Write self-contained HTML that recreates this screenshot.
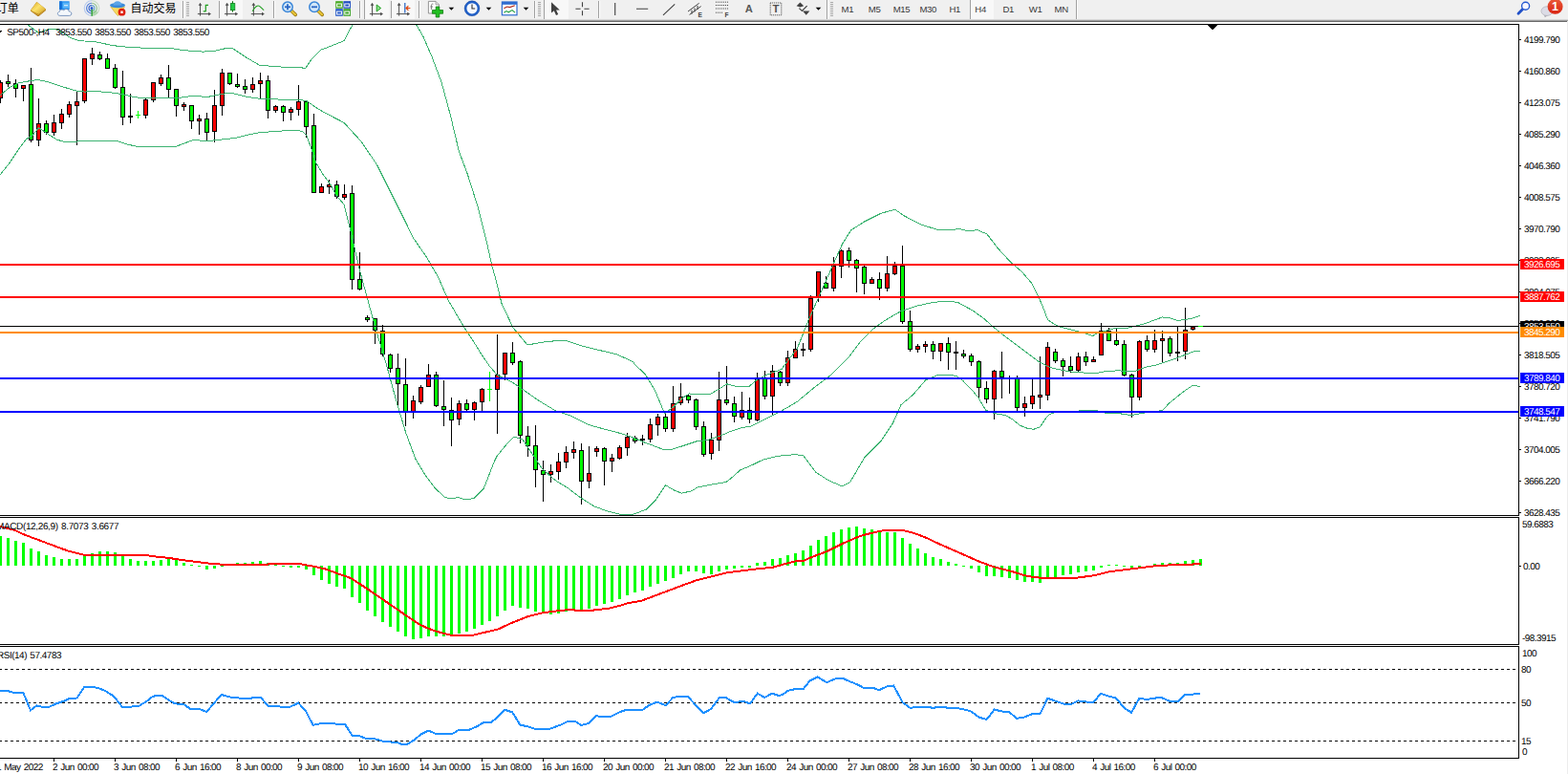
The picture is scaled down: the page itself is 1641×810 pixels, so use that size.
<!DOCTYPE html>
<html><head><meta charset="utf-8"><title>SP500 H4</title>
<style>
html,body{margin:0;padding:0;background:#fff;overflow:hidden}
body{width:1641px;height:810px;font-family:"Liberation Sans",sans-serif}
svg{display:block;position:absolute;left:0;top:0}
svg text{font-family:"Liberation Sans",sans-serif}
</style></head><body>
<svg width="1641" height="810" viewBox="0 0 1641 810">
<defs><clipPath id="cm"><rect x="0" y="26" width="1589" height="513"/></clipPath></defs>
<rect x="0" y="0" width="1641" height="810" fill="#fff"/>
<g shape-rendering="crispEdges">
<rect x="0" y="25" width="1590" height="1" fill="#000"/>
<rect x="0" y="539" width="1590" height="1" fill="#000"/>
<rect x="1589" y="25" width="1" height="515" fill="#000"/>
<rect x="0" y="541" width="1590" height="1" fill="#000"/>
<rect x="0" y="674" width="1590" height="1" fill="#000"/>
<rect x="1589" y="541" width="1" height="134" fill="#000"/>
<rect x="0" y="676" width="1590" height="1" fill="#000"/>
<rect x="0" y="793" width="1590" height="1" fill="#000"/>
<rect x="1589" y="676" width="1" height="118" fill="#000"/>
<rect x="0" y="84" width="1" height="24" fill="#000"/>
<rect x="-2" y="86" width="5" height="17" fill="#000"/>
<rect x="-1" y="87" width="3" height="15" fill="#FF0000"/>
<rect x="8" y="78" width="1" height="13" fill="#000"/>
<rect x="6" y="85" width="5" height="3" fill="#000"/>
<rect x="7" y="86" width="3" height="1" fill="#00FF00"/>
<rect x="16" y="83" width="1" height="19" fill="#000"/>
<rect x="14" y="87" width="5" height="6" fill="#000"/>
<rect x="15" y="88" width="3" height="4" fill="#00FF00"/>
<rect x="24" y="89" width="1" height="17" fill="#000"/>
<rect x="22" y="89" width="5" height="4" fill="#000"/>
<rect x="23" y="90" width="3" height="2" fill="#FF0000"/>
<rect x="32" y="71" width="1" height="78" fill="#000"/>
<rect x="30" y="88" width="5" height="59" fill="#000"/>
<rect x="31" y="89" width="3" height="57" fill="#00FF00"/>
<rect x="40" y="103" width="1" height="50" fill="#000"/>
<rect x="38" y="129" width="5" height="18" fill="#000"/>
<rect x="39" y="130" width="3" height="16" fill="#FF0000"/>
<rect x="48" y="126" width="1" height="15" fill="#000"/>
<rect x="46" y="129" width="5" height="10" fill="#000"/>
<rect x="47" y="130" width="3" height="8" fill="#00FF00"/>
<rect x="56" y="120" width="1" height="22" fill="#000"/>
<rect x="54" y="128" width="5" height="11" fill="#000"/>
<rect x="55" y="129" width="3" height="9" fill="#FF0000"/>
<rect x="64" y="114" width="1" height="21" fill="#000"/>
<rect x="62" y="119" width="5" height="10" fill="#000"/>
<rect x="63" y="120" width="3" height="8" fill="#FF0000"/>
<rect x="72" y="106" width="1" height="17" fill="#000"/>
<rect x="70" y="109" width="5" height="11" fill="#000"/>
<rect x="71" y="110" width="3" height="9" fill="#FF0000"/>
<rect x="80" y="96" width="1" height="56" fill="#000"/>
<rect x="78" y="106" width="5" height="5" fill="#000"/>
<rect x="79" y="107" width="3" height="3" fill="#FF0000"/>
<rect x="88" y="61" width="1" height="47" fill="#000"/>
<rect x="86" y="61" width="5" height="45" fill="#000"/>
<rect x="87" y="62" width="3" height="43" fill="#FF0000"/>
<rect x="96" y="50" width="1" height="18" fill="#000"/>
<rect x="94" y="56" width="5" height="6" fill="#000"/>
<rect x="95" y="57" width="3" height="4" fill="#FF0000"/>
<rect x="104" y="54" width="1" height="9" fill="#000"/>
<rect x="102" y="57" width="5" height="5" fill="#000"/>
<rect x="103" y="58" width="3" height="3" fill="#00FF00"/>
<rect x="112" y="56" width="1" height="16" fill="#000"/>
<rect x="110" y="61" width="5" height="11" fill="#000"/>
<rect x="111" y="62" width="3" height="9" fill="#00FF00"/>
<rect x="120" y="67" width="1" height="26" fill="#000"/>
<rect x="118" y="71" width="5" height="21" fill="#000"/>
<rect x="119" y="72" width="3" height="19" fill="#00FF00"/>
<rect x="128" y="74" width="1" height="57" fill="#000"/>
<rect x="126" y="91" width="5" height="32" fill="#000"/>
<rect x="127" y="92" width="3" height="30" fill="#00FF00"/>
<rect x="136" y="98" width="1" height="31" fill="#000"/>
<rect x="134" y="121" width="5" height="2" fill="#000"/>
<rect x="144" y="116" width="1" height="8" fill="#00FF00"/>
<rect x="142" y="120" width="5" height="1" fill="#00FF00"/>
<rect x="152" y="102" width="1" height="22" fill="#000"/>
<rect x="150" y="104" width="5" height="17" fill="#000"/>
<rect x="151" y="105" width="3" height="15" fill="#FF0000"/>
<rect x="160" y="86" width="1" height="21" fill="#000"/>
<rect x="158" y="86" width="5" height="19" fill="#000"/>
<rect x="159" y="87" width="3" height="17" fill="#FF0000"/>
<rect x="168" y="78" width="1" height="12" fill="#000"/>
<rect x="166" y="81" width="5" height="7" fill="#000"/>
<rect x="167" y="82" width="3" height="5" fill="#FF0000"/>
<rect x="176" y="68" width="1" height="34" fill="#000"/>
<rect x="174" y="81" width="5" height="13" fill="#000"/>
<rect x="175" y="82" width="3" height="11" fill="#00FF00"/>
<rect x="184" y="93" width="1" height="29" fill="#000"/>
<rect x="182" y="93" width="5" height="18" fill="#000"/>
<rect x="183" y="94" width="3" height="16" fill="#00FF00"/>
<rect x="192" y="107" width="1" height="9" fill="#000"/>
<rect x="190" y="109" width="5" height="3" fill="#000"/>
<rect x="191" y="110" width="3" height="1" fill="#FF0000"/>
<rect x="200" y="110" width="1" height="25" fill="#000"/>
<rect x="198" y="110" width="5" height="17" fill="#000"/>
<rect x="199" y="111" width="3" height="15" fill="#00FF00"/>
<rect x="208" y="120" width="1" height="21" fill="#000"/>
<rect x="206" y="124" width="5" height="3" fill="#000"/>
<rect x="207" y="125" width="3" height="1" fill="#FF0000"/>
<rect x="216" y="118" width="1" height="29" fill="#000"/>
<rect x="214" y="124" width="5" height="15" fill="#000"/>
<rect x="215" y="125" width="3" height="13" fill="#00FF00"/>
<rect x="224" y="94" width="1" height="55" fill="#000"/>
<rect x="222" y="110" width="5" height="28" fill="#000"/>
<rect x="223" y="111" width="3" height="26" fill="#FF0000"/>
<rect x="232" y="72" width="1" height="49" fill="#000"/>
<rect x="230" y="76" width="5" height="35" fill="#000"/>
<rect x="231" y="77" width="3" height="33" fill="#FF0000"/>
<rect x="240" y="76" width="1" height="13" fill="#000"/>
<rect x="238" y="76" width="5" height="12" fill="#000"/>
<rect x="239" y="77" width="3" height="10" fill="#00FF00"/>
<rect x="248" y="77" width="1" height="15" fill="#000"/>
<rect x="246" y="88" width="5" height="3" fill="#000"/>
<rect x="247" y="89" width="3" height="1" fill="#00FF00"/>
<rect x="256" y="83" width="1" height="15" fill="#000"/>
<rect x="254" y="90" width="5" height="4" fill="#000"/>
<rect x="255" y="91" width="3" height="2" fill="#00FF00"/>
<rect x="264" y="81" width="1" height="16" fill="#000"/>
<rect x="262" y="88" width="5" height="6" fill="#000"/>
<rect x="263" y="89" width="3" height="4" fill="#FF0000"/>
<rect x="272" y="76" width="1" height="27" fill="#000"/>
<rect x="270" y="84" width="5" height="4" fill="#000"/>
<rect x="271" y="85" width="3" height="2" fill="#FF0000"/>
<rect x="280" y="79" width="1" height="45" fill="#000"/>
<rect x="278" y="84" width="5" height="32" fill="#000"/>
<rect x="279" y="85" width="3" height="30" fill="#00FF00"/>
<rect x="288" y="110" width="1" height="8" fill="#000"/>
<rect x="286" y="111" width="5" height="5" fill="#000"/>
<rect x="287" y="112" width="3" height="3" fill="#FF0000"/>
<rect x="296" y="110" width="1" height="17" fill="#000"/>
<rect x="294" y="111" width="5" height="7" fill="#000"/>
<rect x="295" y="112" width="3" height="5" fill="#00FF00"/>
<rect x="304" y="112" width="1" height="14" fill="#000"/>
<rect x="302" y="114" width="5" height="4" fill="#000"/>
<rect x="303" y="115" width="3" height="2" fill="#FF0000"/>
<rect x="312" y="89" width="1" height="32" fill="#000"/>
<rect x="310" y="106" width="5" height="9" fill="#000"/>
<rect x="311" y="107" width="3" height="7" fill="#FF0000"/>
<rect x="320" y="106" width="1" height="38" fill="#000"/>
<rect x="318" y="106" width="5" height="27" fill="#000"/>
<rect x="319" y="107" width="3" height="25" fill="#00FF00"/>
<rect x="328" y="119" width="1" height="83" fill="#000"/>
<rect x="326" y="131" width="5" height="71" fill="#000"/>
<rect x="327" y="132" width="3" height="69" fill="#00FF00"/>
<rect x="336" y="192" width="1" height="10" fill="#000"/>
<rect x="334" y="195" width="5" height="7" fill="#000"/>
<rect x="335" y="196" width="3" height="5" fill="#FF0000"/>
<rect x="344" y="188" width="1" height="15" fill="#000"/>
<rect x="342" y="193" width="5" height="3" fill="#000"/>
<rect x="343" y="194" width="3" height="1" fill="#FF0000"/>
<rect x="352" y="189" width="1" height="19" fill="#000"/>
<rect x="350" y="193" width="5" height="13" fill="#000"/>
<rect x="351" y="194" width="3" height="11" fill="#00FF00"/>
<rect x="360" y="193" width="1" height="16" fill="#000"/>
<rect x="358" y="203" width="5" height="4" fill="#000"/>
<rect x="359" y="204" width="3" height="2" fill="#FF0000"/>
<rect x="368" y="194" width="1" height="109" fill="#000"/>
<rect x="366" y="202" width="5" height="91" fill="#000"/>
<rect x="367" y="203" width="3" height="89" fill="#00FF00"/>
<rect x="376" y="264" width="1" height="40" fill="#000"/>
<rect x="374" y="292" width="5" height="11" fill="#000"/>
<rect x="375" y="293" width="3" height="9" fill="#00FF00"/>
<rect x="384" y="330" width="1" height="7" fill="#000"/>
<rect x="382" y="332" width="5" height="3" fill="#000"/>
<rect x="383" y="333" width="3" height="1" fill="#00FF00"/>
<rect x="392" y="333" width="1" height="27" fill="#000"/>
<rect x="390" y="333" width="5" height="13" fill="#000"/>
<rect x="391" y="334" width="3" height="11" fill="#00FF00"/>
<rect x="400" y="340" width="1" height="33" fill="#000"/>
<rect x="398" y="346" width="5" height="25" fill="#000"/>
<rect x="399" y="347" width="3" height="23" fill="#00FF00"/>
<rect x="408" y="370" width="1" height="20" fill="#000"/>
<rect x="406" y="371" width="5" height="15" fill="#000"/>
<rect x="407" y="372" width="3" height="13" fill="#00FF00"/>
<rect x="416" y="370" width="1" height="57" fill="#000"/>
<rect x="414" y="385" width="5" height="17" fill="#000"/>
<rect x="415" y="386" width="3" height="15" fill="#00FF00"/>
<rect x="424" y="375" width="1" height="71" fill="#000"/>
<rect x="422" y="402" width="5" height="29" fill="#000"/>
<rect x="423" y="403" width="3" height="27" fill="#00FF00"/>
<rect x="432" y="414" width="1" height="24" fill="#000"/>
<rect x="430" y="419" width="5" height="12" fill="#000"/>
<rect x="431" y="420" width="3" height="10" fill="#FF0000"/>
<rect x="440" y="403" width="1" height="20" fill="#000"/>
<rect x="438" y="405" width="5" height="16" fill="#000"/>
<rect x="439" y="406" width="3" height="14" fill="#FF0000"/>
<rect x="448" y="381" width="1" height="24" fill="#000"/>
<rect x="446" y="392" width="5" height="13" fill="#000"/>
<rect x="447" y="393" width="3" height="11" fill="#FF0000"/>
<rect x="456" y="389" width="1" height="37" fill="#000"/>
<rect x="454" y="392" width="5" height="33" fill="#000"/>
<rect x="455" y="393" width="3" height="31" fill="#00FF00"/>
<rect x="464" y="398" width="1" height="48" fill="#000"/>
<rect x="462" y="425" width="5" height="4" fill="#000"/>
<rect x="463" y="426" width="3" height="2" fill="#00FF00"/>
<rect x="472" y="416" width="1" height="51" fill="#000"/>
<rect x="470" y="429" width="5" height="11" fill="#000"/>
<rect x="471" y="430" width="3" height="9" fill="#00FF00"/>
<rect x="480" y="419" width="1" height="26" fill="#000"/>
<rect x="478" y="422" width="5" height="17" fill="#000"/>
<rect x="479" y="423" width="3" height="15" fill="#FF0000"/>
<rect x="488" y="418" width="1" height="12" fill="#000"/>
<rect x="486" y="422" width="5" height="7" fill="#000"/>
<rect x="487" y="423" width="3" height="5" fill="#00FF00"/>
<rect x="496" y="420" width="1" height="20" fill="#000"/>
<rect x="494" y="421" width="5" height="8" fill="#000"/>
<rect x="495" y="422" width="3" height="6" fill="#FF0000"/>
<rect x="504" y="406" width="1" height="24" fill="#000"/>
<rect x="502" y="407" width="5" height="14" fill="#000"/>
<rect x="503" y="408" width="3" height="12" fill="#FF0000"/>
<rect x="512" y="389" width="1" height="31" fill="#00FF00"/>
<rect x="510" y="407" width="5" height="1" fill="#00FF00"/>
<rect x="520" y="350" width="1" height="104" fill="#000"/>
<rect x="518" y="392" width="5" height="16" fill="#000"/>
<rect x="519" y="393" width="3" height="14" fill="#FF0000"/>
<rect x="528" y="369" width="1" height="29" fill="#000"/>
<rect x="526" y="369" width="5" height="23" fill="#000"/>
<rect x="527" y="370" width="3" height="21" fill="#FF0000"/>
<rect x="536" y="358" width="1" height="24" fill="#000"/>
<rect x="534" y="369" width="5" height="11" fill="#000"/>
<rect x="535" y="370" width="3" height="9" fill="#00FF00"/>
<rect x="544" y="377" width="1" height="87" fill="#000"/>
<rect x="542" y="378" width="5" height="78" fill="#000"/>
<rect x="543" y="379" width="3" height="76" fill="#00FF00"/>
<rect x="552" y="446" width="1" height="32" fill="#000"/>
<rect x="550" y="456" width="5" height="11" fill="#000"/>
<rect x="551" y="457" width="3" height="9" fill="#00FF00"/>
<rect x="560" y="445" width="1" height="65" fill="#000"/>
<rect x="558" y="466" width="5" height="26" fill="#000"/>
<rect x="559" y="467" width="3" height="24" fill="#00FF00"/>
<rect x="568" y="482" width="1" height="43" fill="#000"/>
<rect x="566" y="492" width="5" height="5" fill="#000"/>
<rect x="567" y="493" width="3" height="3" fill="#00FF00"/>
<rect x="576" y="486" width="1" height="19" fill="#000"/>
<rect x="574" y="493" width="5" height="4" fill="#000"/>
<rect x="575" y="494" width="3" height="2" fill="#FF0000"/>
<rect x="584" y="474" width="1" height="28" fill="#000"/>
<rect x="582" y="483" width="5" height="11" fill="#000"/>
<rect x="583" y="484" width="3" height="9" fill="#FF0000"/>
<rect x="592" y="467" width="1" height="23" fill="#000"/>
<rect x="590" y="473" width="5" height="11" fill="#000"/>
<rect x="591" y="474" width="3" height="9" fill="#FF0000"/>
<rect x="600" y="462" width="1" height="18" fill="#000"/>
<rect x="598" y="470" width="5" height="4" fill="#000"/>
<rect x="599" y="471" width="3" height="2" fill="#FF0000"/>
<rect x="608" y="464" width="1" height="64" fill="#000"/>
<rect x="606" y="471" width="5" height="33" fill="#000"/>
<rect x="607" y="472" width="3" height="31" fill="#00FF00"/>
<rect x="616" y="467" width="1" height="44" fill="#000"/>
<rect x="614" y="495" width="5" height="9" fill="#000"/>
<rect x="615" y="496" width="3" height="7" fill="#FF0000"/>
<rect x="624" y="467" width="1" height="11" fill="#000"/>
<rect x="622" y="469" width="5" height="4" fill="#000"/>
<rect x="623" y="470" width="3" height="2" fill="#FF0000"/>
<rect x="632" y="468" width="1" height="40" fill="#000"/>
<rect x="630" y="469" width="5" height="14" fill="#000"/>
<rect x="631" y="470" width="3" height="12" fill="#00FF00"/>
<rect x="640" y="475" width="1" height="19" fill="#000"/>
<rect x="638" y="479" width="5" height="4" fill="#000"/>
<rect x="639" y="480" width="3" height="2" fill="#FF0000"/>
<rect x="648" y="466" width="1" height="15" fill="#000"/>
<rect x="646" y="468" width="5" height="12" fill="#000"/>
<rect x="647" y="469" width="3" height="10" fill="#FF0000"/>
<rect x="656" y="453" width="1" height="24" fill="#000"/>
<rect x="654" y="457" width="5" height="12" fill="#000"/>
<rect x="655" y="458" width="3" height="10" fill="#FF0000"/>
<rect x="664" y="456" width="1" height="8" fill="#000"/>
<rect x="662" y="458" width="5" height="4" fill="#000"/>
<rect x="663" y="459" width="3" height="2" fill="#00FF00"/>
<rect x="672" y="455" width="1" height="11" fill="#000"/>
<rect x="670" y="459" width="5" height="2" fill="#000"/>
<rect x="680" y="438" width="1" height="25" fill="#000"/>
<rect x="678" y="444" width="5" height="16" fill="#000"/>
<rect x="679" y="445" width="3" height="14" fill="#FF0000"/>
<rect x="688" y="433" width="1" height="23" fill="#000"/>
<rect x="686" y="436" width="5" height="9" fill="#000"/>
<rect x="687" y="437" width="3" height="7" fill="#FF0000"/>
<rect x="696" y="433" width="1" height="19" fill="#000"/>
<rect x="694" y="436" width="5" height="13" fill="#000"/>
<rect x="695" y="437" width="3" height="11" fill="#00FF00"/>
<rect x="704" y="404" width="1" height="48" fill="#000"/>
<rect x="702" y="422" width="5" height="27" fill="#000"/>
<rect x="703" y="423" width="3" height="25" fill="#FF0000"/>
<rect x="712" y="401" width="1" height="23" fill="#000"/>
<rect x="710" y="415" width="5" height="7" fill="#000"/>
<rect x="711" y="416" width="3" height="5" fill="#FF0000"/>
<rect x="720" y="413" width="1" height="9" fill="#000"/>
<rect x="718" y="414" width="5" height="5" fill="#000"/>
<rect x="719" y="415" width="3" height="3" fill="#00FF00"/>
<rect x="728" y="417" width="1" height="33" fill="#000"/>
<rect x="726" y="418" width="5" height="29" fill="#000"/>
<rect x="727" y="419" width="3" height="27" fill="#00FF00"/>
<rect x="736" y="441" width="1" height="37" fill="#000"/>
<rect x="734" y="446" width="5" height="30" fill="#000"/>
<rect x="735" y="447" width="3" height="28" fill="#00FF00"/>
<rect x="744" y="453" width="1" height="28" fill="#000"/>
<rect x="742" y="460" width="5" height="15" fill="#000"/>
<rect x="743" y="461" width="3" height="13" fill="#FF0000"/>
<rect x="752" y="389" width="1" height="83" fill="#000"/>
<rect x="750" y="418" width="5" height="43" fill="#000"/>
<rect x="751" y="419" width="3" height="41" fill="#FF0000"/>
<rect x="760" y="383" width="1" height="41" fill="#000"/>
<rect x="758" y="418" width="5" height="4" fill="#000"/>
<rect x="759" y="419" width="3" height="2" fill="#00FF00"/>
<rect x="768" y="415" width="1" height="27" fill="#000"/>
<rect x="766" y="422" width="5" height="14" fill="#000"/>
<rect x="767" y="423" width="3" height="12" fill="#00FF00"/>
<rect x="776" y="410" width="1" height="29" fill="#000"/>
<rect x="774" y="429" width="5" height="8" fill="#000"/>
<rect x="775" y="430" width="3" height="6" fill="#FF0000"/>
<rect x="784" y="416" width="1" height="27" fill="#000"/>
<rect x="782" y="429" width="5" height="10" fill="#000"/>
<rect x="783" y="430" width="3" height="8" fill="#00FF00"/>
<rect x="792" y="390" width="1" height="51" fill="#000"/>
<rect x="790" y="397" width="5" height="43" fill="#000"/>
<rect x="791" y="398" width="3" height="41" fill="#FF0000"/>
<rect x="800" y="388" width="1" height="30" fill="#000"/>
<rect x="798" y="396" width="5" height="19" fill="#000"/>
<rect x="799" y="397" width="3" height="17" fill="#00FF00"/>
<rect x="808" y="382" width="1" height="52" fill="#000"/>
<rect x="806" y="388" width="5" height="27" fill="#000"/>
<rect x="807" y="389" width="3" height="25" fill="#FF0000"/>
<rect x="816" y="388" width="1" height="16" fill="#000"/>
<rect x="814" y="389" width="5" height="12" fill="#000"/>
<rect x="815" y="390" width="3" height="10" fill="#00FF00"/>
<rect x="824" y="367" width="1" height="37" fill="#000"/>
<rect x="822" y="374" width="5" height="27" fill="#000"/>
<rect x="823" y="375" width="3" height="25" fill="#FF0000"/>
<rect x="832" y="357" width="1" height="18" fill="#000"/>
<rect x="830" y="365" width="5" height="10" fill="#000"/>
<rect x="831" y="366" width="3" height="8" fill="#FF0000"/>
<rect x="840" y="359" width="1" height="14" fill="#000"/>
<rect x="838" y="365" width="5" height="2" fill="#000"/>
<rect x="848" y="309" width="1" height="59" fill="#000"/>
<rect x="846" y="312" width="5" height="54" fill="#000"/>
<rect x="847" y="313" width="3" height="52" fill="#FF0000"/>
<rect x="856" y="284" width="1" height="32" fill="#000"/>
<rect x="854" y="284" width="5" height="27" fill="#000"/>
<rect x="855" y="285" width="3" height="25" fill="#FF0000"/>
<rect x="864" y="289" width="1" height="13" fill="#000"/>
<rect x="862" y="296" width="5" height="6" fill="#000"/>
<rect x="863" y="297" width="3" height="4" fill="#00FF00"/>
<rect x="872" y="269" width="1" height="36" fill="#000"/>
<rect x="870" y="278" width="5" height="24" fill="#000"/>
<rect x="871" y="279" width="3" height="22" fill="#FF0000"/>
<rect x="880" y="261" width="1" height="30" fill="#000"/>
<rect x="878" y="262" width="5" height="17" fill="#000"/>
<rect x="879" y="263" width="3" height="15" fill="#FF0000"/>
<rect x="888" y="259" width="1" height="21" fill="#000"/>
<rect x="886" y="262" width="5" height="11" fill="#000"/>
<rect x="887" y="263" width="3" height="9" fill="#00FF00"/>
<rect x="896" y="271" width="1" height="35" fill="#000"/>
<rect x="894" y="272" width="5" height="9" fill="#000"/>
<rect x="895" y="273" width="3" height="7" fill="#00FF00"/>
<rect x="904" y="278" width="1" height="30" fill="#000"/>
<rect x="902" y="279" width="5" height="18" fill="#000"/>
<rect x="903" y="280" width="3" height="16" fill="#00FF00"/>
<rect x="912" y="290" width="1" height="7" fill="#000"/>
<rect x="910" y="292" width="5" height="5" fill="#000"/>
<rect x="911" y="293" width="3" height="3" fill="#FF0000"/>
<rect x="920" y="285" width="1" height="29" fill="#000"/>
<rect x="918" y="292" width="5" height="10" fill="#000"/>
<rect x="919" y="293" width="3" height="8" fill="#00FF00"/>
<rect x="928" y="268" width="1" height="37" fill="#000"/>
<rect x="926" y="286" width="5" height="16" fill="#000"/>
<rect x="927" y="287" width="3" height="14" fill="#FF0000"/>
<rect x="936" y="274" width="1" height="14" fill="#000"/>
<rect x="934" y="278" width="5" height="9" fill="#000"/>
<rect x="935" y="279" width="3" height="7" fill="#FF0000"/>
<rect x="944" y="257" width="1" height="82" fill="#000"/>
<rect x="942" y="278" width="5" height="59" fill="#000"/>
<rect x="943" y="279" width="3" height="57" fill="#00FF00"/>
<rect x="952" y="325" width="1" height="43" fill="#000"/>
<rect x="950" y="336" width="5" height="30" fill="#000"/>
<rect x="951" y="337" width="3" height="28" fill="#00FF00"/>
<rect x="960" y="360" width="1" height="9" fill="#000"/>
<rect x="958" y="362" width="5" height="4" fill="#000"/>
<rect x="959" y="363" width="3" height="2" fill="#FF0000"/>
<rect x="968" y="357" width="1" height="12" fill="#000"/>
<rect x="966" y="360" width="5" height="3" fill="#000"/>
<rect x="967" y="361" width="3" height="1" fill="#FF0000"/>
<rect x="976" y="357" width="1" height="19" fill="#000"/>
<rect x="974" y="360" width="5" height="8" fill="#000"/>
<rect x="975" y="361" width="3" height="6" fill="#00FF00"/>
<rect x="984" y="359" width="1" height="19" fill="#000"/>
<rect x="982" y="359" width="5" height="9" fill="#000"/>
<rect x="983" y="360" width="3" height="7" fill="#FF0000"/>
<rect x="992" y="353" width="1" height="34" fill="#000"/>
<rect x="990" y="359" width="5" height="10" fill="#000"/>
<rect x="991" y="360" width="3" height="8" fill="#00FF00"/>
<rect x="1000" y="357" width="1" height="30" fill="#000"/>
<rect x="998" y="368" width="5" height="2" fill="#000"/>
<rect x="1008" y="366" width="1" height="9" fill="#000"/>
<rect x="1006" y="370" width="5" height="3" fill="#000"/>
<rect x="1007" y="371" width="3" height="1" fill="#00FF00"/>
<rect x="1016" y="370" width="1" height="13" fill="#000"/>
<rect x="1014" y="372" width="5" height="7" fill="#000"/>
<rect x="1015" y="373" width="3" height="5" fill="#00FF00"/>
<rect x="1024" y="377" width="1" height="41" fill="#000"/>
<rect x="1022" y="378" width="5" height="28" fill="#000"/>
<rect x="1023" y="379" width="3" height="26" fill="#00FF00"/>
<rect x="1032" y="399" width="1" height="23" fill="#000"/>
<rect x="1030" y="406" width="5" height="12" fill="#000"/>
<rect x="1031" y="407" width="3" height="10" fill="#00FF00"/>
<rect x="1040" y="387" width="1" height="52" fill="#000"/>
<rect x="1038" y="388" width="5" height="30" fill="#000"/>
<rect x="1039" y="389" width="3" height="28" fill="#FF0000"/>
<rect x="1048" y="368" width="1" height="49" fill="#000"/>
<rect x="1046" y="388" width="5" height="7" fill="#000"/>
<rect x="1047" y="389" width="3" height="5" fill="#00FF00"/>
<rect x="1056" y="393" width="1" height="19" fill="#000"/>
<rect x="1054" y="395" width="5" height="2" fill="#000"/>
<rect x="1064" y="393" width="1" height="37" fill="#000"/>
<rect x="1062" y="396" width="5" height="31" fill="#000"/>
<rect x="1063" y="397" width="3" height="29" fill="#00FF00"/>
<rect x="1072" y="415" width="1" height="21" fill="#000"/>
<rect x="1070" y="422" width="5" height="5" fill="#000"/>
<rect x="1071" y="423" width="3" height="3" fill="#FF0000"/>
<rect x="1080" y="397" width="1" height="31" fill="#000"/>
<rect x="1078" y="414" width="5" height="9" fill="#000"/>
<rect x="1079" y="415" width="3" height="7" fill="#FF0000"/>
<rect x="1088" y="373" width="1" height="55" fill="#000"/>
<rect x="1086" y="413" width="5" height="3" fill="#000"/>
<rect x="1087" y="414" width="3" height="1" fill="#FF0000"/>
<rect x="1096" y="358" width="1" height="61" fill="#000"/>
<rect x="1094" y="363" width="5" height="51" fill="#000"/>
<rect x="1095" y="364" width="3" height="49" fill="#FF0000"/>
<rect x="1104" y="365" width="1" height="15" fill="#000"/>
<rect x="1102" y="368" width="5" height="10" fill="#000"/>
<rect x="1103" y="369" width="3" height="8" fill="#00FF00"/>
<rect x="1112" y="375" width="1" height="19" fill="#000"/>
<rect x="1110" y="377" width="5" height="7" fill="#000"/>
<rect x="1111" y="378" width="3" height="5" fill="#00FF00"/>
<rect x="1120" y="373" width="1" height="17" fill="#000"/>
<rect x="1118" y="383" width="5" height="5" fill="#000"/>
<rect x="1119" y="384" width="3" height="3" fill="#00FF00"/>
<rect x="1128" y="369" width="1" height="20" fill="#000"/>
<rect x="1126" y="373" width="5" height="15" fill="#000"/>
<rect x="1127" y="374" width="3" height="13" fill="#FF0000"/>
<rect x="1136" y="368" width="1" height="15" fill="#000"/>
<rect x="1134" y="373" width="5" height="6" fill="#000"/>
<rect x="1135" y="374" width="3" height="4" fill="#00FF00"/>
<rect x="1144" y="373" width="1" height="6" fill="#000"/>
<rect x="1142" y="376" width="5" height="3" fill="#000"/>
<rect x="1143" y="377" width="3" height="1" fill="#FF0000"/>
<rect x="1152" y="338" width="1" height="34" fill="#000"/>
<rect x="1150" y="346" width="5" height="26" fill="#000"/>
<rect x="1151" y="347" width="3" height="24" fill="#FF0000"/>
<rect x="1160" y="343" width="1" height="14" fill="#000"/>
<rect x="1158" y="346" width="5" height="11" fill="#000"/>
<rect x="1159" y="347" width="3" height="9" fill="#00FF00"/>
<rect x="1168" y="344" width="1" height="18" fill="#000"/>
<rect x="1166" y="356" width="5" height="5" fill="#000"/>
<rect x="1167" y="357" width="3" height="3" fill="#00FF00"/>
<rect x="1176" y="356" width="1" height="38" fill="#000"/>
<rect x="1174" y="360" width="5" height="33" fill="#000"/>
<rect x="1175" y="361" width="3" height="31" fill="#00FF00"/>
<rect x="1184" y="391" width="1" height="46" fill="#000"/>
<rect x="1182" y="392" width="5" height="24" fill="#000"/>
<rect x="1183" y="393" width="3" height="22" fill="#00FF00"/>
<rect x="1192" y="356" width="1" height="63" fill="#000"/>
<rect x="1190" y="357" width="5" height="59" fill="#000"/>
<rect x="1191" y="358" width="3" height="57" fill="#FF0000"/>
<rect x="1200" y="351" width="1" height="17" fill="#000"/>
<rect x="1198" y="356" width="5" height="10" fill="#000"/>
<rect x="1199" y="357" width="3" height="8" fill="#00FF00"/>
<rect x="1208" y="345" width="1" height="24" fill="#000"/>
<rect x="1206" y="356" width="5" height="10" fill="#000"/>
<rect x="1207" y="357" width="3" height="8" fill="#FF0000"/>
<rect x="1216" y="346" width="1" height="34" fill="#000"/>
<rect x="1214" y="354" width="5" height="3" fill="#000"/>
<rect x="1215" y="355" width="3" height="1" fill="#FF0000"/>
<rect x="1224" y="352" width="1" height="21" fill="#000"/>
<rect x="1222" y="354" width="5" height="16" fill="#000"/>
<rect x="1223" y="355" width="3" height="14" fill="#00FF00"/>
<rect x="1232" y="342" width="1" height="36" fill="#000"/>
<rect x="1230" y="368" width="5" height="2" fill="#000"/>
<rect x="1240" y="322" width="1" height="54" fill="#000"/>
<rect x="1238" y="345" width="5" height="23" fill="#000"/>
<rect x="1239" y="346" width="3" height="21" fill="#FF0000"/>
<rect x="1248" y="342" width="1" height="4" fill="#000"/>
<rect x="1246" y="342" width="5" height="3" fill="#000"/>
<rect x="1247" y="343" width="3" height="1" fill="#FF0000"/>
<rect x="1264" y="26" width="10" height="1" fill="#000"/>
<rect x="1265" y="27" width="8" height="1" fill="#000"/>
<rect x="1266" y="28" width="6" height="1" fill="#000"/>
<rect x="1267" y="29" width="4" height="1" fill="#000"/>
<rect x="1268" y="30" width="2" height="1" fill="#000"/>
<g clip-path="url(#cm)">
<polyline points="29.0,26.0 40.5,34.4 51.9,30.2 59.3,30.2 74.0,39.8 84.0,42.8 98.8,43.5 118.5,47.7 138.0,49.7 158.0,50.4 177.8,50.4 192.6,52.7 212.0,54.1 224.7,53.4 237.0,50.4 243.0,50.4 256.8,59.6 271.6,68.2 291.4,69.9 311.0,70.7 319.8,71.2 326.0,62.0 335.8,52.2 345.7,48.5 360.0,42.7 365.4,32.4 369.0,26.0" fill="none" stroke="#3CB371" stroke-width="1" shape-rendering="crispEdges"/>
<polyline points="435.7,26.0 442.7,37.8 452.4,60.3 462.0,86.0 471.6,121.3 480.3,158.2 489.3,182.3 500.5,217.6 510.0,256.0 515.0,278.6 518.3,290.4 525.0,317.5 537.0,343.0 552.0,361.0 571.0,357.6 591.3,356.0 608.0,361.7 628.6,366.8 645.6,370.8 662.6,378.7 664.0,380.9 675.8,392.3 685.7,409.1 695.6,432.8 703.5,426.9 713.4,417.0 721.3,412.0 743.0,412.5 752.8,407.0 760.7,401.8 768.6,404.0 784.4,404.0 792.3,397.3 802.2,392.3 818.0,386.4 825.9,375.5 834.0,365.7 845.6,336.3 858.8,306.5 872.0,276.7 881.5,255.4 890.5,241.0 904.6,232.0 921.6,223.4 936.6,219.2 947.2,226.4 964.2,235.0 981.3,240.5 998.3,240.5 1003.0,239.3 1013.0,241.7 1023.0,240.7 1033.0,245.0 1043.0,258.3 1056.7,273.3 1070.0,285.0 1080.0,296.7 1088.0,313.3 1091.0,320.0 1094.0,328.0 1096.4,334.4 1101.0,337.7 1107.6,341.7 1117.0,344.0 1127.0,346.5 1136.5,349.2 1143.8,351.5 1149.0,348.4 1157.6,346.0 1168.0,343.2 1178.4,343.7 1188.8,341.1 1199.0,338.5 1207.8,335.0 1216.4,332.0 1223.3,332.5 1232.0,335.4 1240.6,334.5 1249.0,332.8 1255.8,330.4" fill="none" stroke="#3CB371" stroke-width="1" shape-rendering="crispEdges"/>
<polyline points="0.0,99.8 9.9,91.7 19.8,86.7 29.6,85.0 39.5,83.5 49.4,85.5 64.2,90.4 79.0,94.9 88.9,96.1 98.8,95.4 113.6,96.6 128.4,98.6 138.3,101.0 148.0,102.8 167.9,102.3 187.7,102.3 202.5,100.3 217.3,101.5 232.0,98.3 242.0,97.3 256.8,101.0 271.6,103.3 291.4,104.0 311.0,104.0 321.0,105.7 330.9,112.7 340.0,118.0 360.0,128.4 378.5,148.6 394.6,172.7 413.8,211.0 433.0,249.7 447.0,270.0 458.8,290.4 469.0,314.0 486.0,343.0 496.0,358.0 504.0,371.0 512.0,382.7 520.0,392.2 528.0,396.2 536.0,400.0 547.0,407.5 564.0,419.4 581.0,429.6 598.0,435.4 615.0,444.2 632.0,449.0 649.0,453.4 664.0,458.5 673.9,462.8 683.7,466.4 695.6,470.9 703.5,470.3 715.3,466.4 729.2,461.8 741.0,460.4 752.8,456.5 766.7,450.6 776.5,447.6 786.4,446.0 798.3,439.7 810.0,434.2 820.0,428.8 834.0,420.6 853.5,404.4 870.5,391.7 887.6,374.6 900.4,357.6 913.0,344.8 926.0,335.4 943.0,325.6 960.0,320.0 977.0,316.3 994.0,315.0 1003.0,316.7 1009.0,320.0 1017.7,324.8 1029.0,332.8 1040.0,342.5 1049.8,350.5 1059.5,357.7 1069.0,365.0 1078.7,372.2 1088.4,379.4 1098.0,384.2 1107.6,386.6 1120.5,389.0 1130.0,389.8 1140.4,390.4 1147.3,390.4 1157.6,388.6 1169.7,387.8 1181.8,388.6 1187.0,388.6 1199.0,384.3 1211.0,381.7 1221.6,378.3 1233.7,373.9 1242.3,370.5 1249.2,367.9 1255.8,367.0" fill="none" stroke="#3CB371" stroke-width="1" shape-rendering="crispEdges"/>
<polyline points="0.0,183.0 9.9,170.7 19.8,155.9 27.2,146.0 34.6,141.0 40.7,133.6 49.4,139.8 59.3,146.0 69.1,149.0 81.5,148.0 98.8,147.7 113.6,147.2 123.5,147.7 133.3,151.0 143.2,153.4 163.0,153.4 182.7,153.9 190.0,151.0 202.5,146.5 217.3,147.7 232.0,146.0 247.0,144.3 261.7,140.6 271.6,138.6 291.4,137.3 306.0,136.1 316.0,137.3 321.0,142.3 326.0,155.9 330.9,170.7 338.3,183.0 345.7,192.9 352.0,204.5 360.0,214.0 368.0,246.0 376.0,281.0 384.0,310.7 394.3,348.0 404.5,382.0 414.7,419.4 424.9,453.4 435.0,480.5 445.3,497.5 455.5,511.0 465.6,520.6 472.4,522.0 479.2,520.6 487.7,523.0 496.2,521.3 506.4,511.0 516.6,484.5 520.0,477.5 528.4,467.0 537.8,457.0 547.0,460.0 557.3,475.4 567.5,490.7 581.0,502.6 594.7,511.0 608.3,521.3 621.8,529.8 635.4,534.9 649.0,538.3 662.6,538.3 676.2,533.2 686.4,523.0 696.5,507.7 705.0,512.8 713.5,516.2 723.7,513.8 730.0,510.0 747.0,506.6 759.8,504.5 765.7,500.0 774.6,492.0 786.4,487.0 798.3,481.2 810.0,478.2 822.0,476.2 834.0,475.8 840.7,476.8 853.5,493.9 866.3,502.4 881.2,508.8 889.7,504.5 904.6,479.0 921.6,462.0 934.4,442.8 943.0,423.6 955.7,413.0 968.5,398.0 981.3,392.5 993.7,392.2 1001.7,393.8 1008.0,398.7 1016.0,406.7 1024.0,416.3 1031.4,429.0 1040.0,432.4 1053.0,434.8 1059.5,438.8 1067.5,445.2 1075.5,448.4 1082.0,449.2 1088.4,446.8 1094.8,437.2 1098.0,434.0 1102.8,431.9 1141.3,429.1 1146.4,429.2 1157.6,432.3 1171.5,432.7 1180.0,434.0 1184.4,434.8 1188.8,433.6 1195.7,432.3 1216.4,429.6 1223.3,422.3 1233.7,413.7 1240.6,408.5 1247.5,403.8 1251.0,403.3 1255.8,404.7" fill="none" stroke="#3CB371" stroke-width="1" shape-rendering="crispEdges"/>
</g>
<rect x="0" y="341" width="1589" height="1" fill="#000"/>
<rect x="0" y="276" width="1589" height="2" fill="#FF0000"/>
<rect x="0" y="310" width="1589" height="2" fill="#FF0000"/>
<rect x="0" y="347" width="1589" height="2" fill="#FF8C00"/>
<rect x="0" y="395" width="1589" height="2" fill="#0000FF"/>
<rect x="0" y="430" width="1589" height="2" fill="#0000FF"/>
<rect x="1254" y="341" width="5" height="1" fill="#00FF00"/>
<rect x="-1" y="561" width="3" height="31" fill="#00FF00"/>
<rect x="7" y="563" width="3" height="29" fill="#00FF00"/>
<rect x="15" y="566" width="3" height="26" fill="#00FF00"/>
<rect x="23" y="568" width="3" height="24" fill="#00FF00"/>
<rect x="31" y="574" width="3" height="18" fill="#00FF00"/>
<rect x="39" y="577" width="3" height="15" fill="#00FF00"/>
<rect x="47" y="581" width="3" height="11" fill="#00FF00"/>
<rect x="55" y="583" width="3" height="9" fill="#00FF00"/>
<rect x="63" y="585" width="3" height="7" fill="#00FF00"/>
<rect x="71" y="585" width="3" height="7" fill="#00FF00"/>
<rect x="79" y="585" width="3" height="7" fill="#00FF00"/>
<rect x="87" y="580" width="3" height="12" fill="#00FF00"/>
<rect x="95" y="579" width="3" height="13" fill="#00FF00"/>
<rect x="103" y="577" width="3" height="15" fill="#00FF00"/>
<rect x="111" y="577" width="3" height="15" fill="#00FF00"/>
<rect x="119" y="578" width="3" height="14" fill="#00FF00"/>
<rect x="127" y="581" width="3" height="11" fill="#00FF00"/>
<rect x="135" y="585" width="3" height="7" fill="#00FF00"/>
<rect x="143" y="587" width="3" height="5" fill="#00FF00"/>
<rect x="151" y="587" width="3" height="5" fill="#00FF00"/>
<rect x="159" y="587" width="3" height="5" fill="#00FF00"/>
<rect x="167" y="586" width="3" height="6" fill="#00FF00"/>
<rect x="175" y="585" width="3" height="7" fill="#00FF00"/>
<rect x="183" y="586" width="3" height="6" fill="#00FF00"/>
<rect x="191" y="589" width="3" height="3" fill="#00FF00"/>
<rect x="199" y="591" width="3" height="1" fill="#00FF00"/>
<rect x="207" y="592" width="3" height="1" fill="#00FF00"/>
<rect x="215" y="592" width="3" height="4" fill="#00FF00"/>
<rect x="223" y="592" width="3" height="3" fill="#00FF00"/>
<rect x="231" y="592" width="3" height="1" fill="#00FF00"/>
<rect x="239" y="591" width="3" height="1" fill="#00FF00"/>
<rect x="247" y="589" width="3" height="3" fill="#00FF00"/>
<rect x="255" y="589" width="3" height="3" fill="#00FF00"/>
<rect x="263" y="588" width="3" height="4" fill="#00FF00"/>
<rect x="271" y="587" width="3" height="5" fill="#00FF00"/>
<rect x="279" y="589" width="3" height="3" fill="#00FF00"/>
<rect x="287" y="590" width="3" height="2" fill="#00FF00"/>
<rect x="295" y="592" width="3" height="1" fill="#00FF00"/>
<rect x="303" y="592" width="3" height="2" fill="#00FF00"/>
<rect x="311" y="592" width="3" height="2" fill="#00FF00"/>
<rect x="319" y="592" width="3" height="4" fill="#00FF00"/>
<rect x="327" y="592" width="3" height="10" fill="#00FF00"/>
<rect x="335" y="592" width="3" height="15" fill="#00FF00"/>
<rect x="343" y="592" width="3" height="19" fill="#00FF00"/>
<rect x="351" y="592" width="3" height="22" fill="#00FF00"/>
<rect x="359" y="592" width="3" height="24" fill="#00FF00"/>
<rect x="367" y="592" width="3" height="33" fill="#00FF00"/>
<rect x="375" y="592" width="3" height="39" fill="#00FF00"/>
<rect x="383" y="592" width="3" height="47" fill="#00FF00"/>
<rect x="391" y="592" width="3" height="53" fill="#00FF00"/>
<rect x="399" y="592" width="3" height="59" fill="#00FF00"/>
<rect x="407" y="592" width="3" height="64" fill="#00FF00"/>
<rect x="415" y="592" width="3" height="69" fill="#00FF00"/>
<rect x="423" y="592" width="3" height="74" fill="#00FF00"/>
<rect x="431" y="592" width="3" height="77" fill="#00FF00"/>
<rect x="439" y="592" width="3" height="76" fill="#00FF00"/>
<rect x="447" y="592" width="3" height="74" fill="#00FF00"/>
<rect x="455" y="592" width="3" height="74" fill="#00FF00"/>
<rect x="463" y="592" width="3" height="74" fill="#00FF00"/>
<rect x="471" y="592" width="3" height="73" fill="#00FF00"/>
<rect x="479" y="592" width="3" height="71" fill="#00FF00"/>
<rect x="487" y="592" width="3" height="69" fill="#00FF00"/>
<rect x="495" y="592" width="3" height="66" fill="#00FF00"/>
<rect x="503" y="592" width="3" height="62" fill="#00FF00"/>
<rect x="511" y="592" width="3" height="58" fill="#00FF00"/>
<rect x="519" y="592" width="3" height="53" fill="#00FF00"/>
<rect x="527" y="592" width="3" height="47" fill="#00FF00"/>
<rect x="535" y="592" width="3" height="42" fill="#00FF00"/>
<rect x="543" y="592" width="3" height="44" fill="#00FF00"/>
<rect x="551" y="592" width="3" height="45" fill="#00FF00"/>
<rect x="559" y="592" width="3" height="48" fill="#00FF00"/>
<rect x="567" y="592" width="3" height="50" fill="#00FF00"/>
<rect x="575" y="592" width="3" height="51" fill="#00FF00"/>
<rect x="583" y="592" width="3" height="50" fill="#00FF00"/>
<rect x="591" y="592" width="3" height="48" fill="#00FF00"/>
<rect x="599" y="592" width="3" height="47" fill="#00FF00"/>
<rect x="607" y="592" width="3" height="47" fill="#00FF00"/>
<rect x="615" y="592" width="3" height="45" fill="#00FF00"/>
<rect x="623" y="592" width="3" height="42" fill="#00FF00"/>
<rect x="631" y="592" width="3" height="40" fill="#00FF00"/>
<rect x="639" y="592" width="3" height="38" fill="#00FF00"/>
<rect x="647" y="592" width="3" height="35" fill="#00FF00"/>
<rect x="655" y="592" width="3" height="31" fill="#00FF00"/>
<rect x="663" y="592" width="3" height="28" fill="#00FF00"/>
<rect x="671" y="592" width="3" height="26" fill="#00FF00"/>
<rect x="679" y="592" width="3" height="22" fill="#00FF00"/>
<rect x="687" y="592" width="3" height="19" fill="#00FF00"/>
<rect x="695" y="592" width="3" height="16" fill="#00FF00"/>
<rect x="703" y="592" width="3" height="13" fill="#00FF00"/>
<rect x="711" y="592" width="3" height="9" fill="#00FF00"/>
<rect x="719" y="592" width="3" height="6" fill="#00FF00"/>
<rect x="727" y="592" width="3" height="6" fill="#00FF00"/>
<rect x="735" y="592" width="3" height="8" fill="#00FF00"/>
<rect x="743" y="592" width="3" height="9" fill="#00FF00"/>
<rect x="751" y="592" width="3" height="6" fill="#00FF00"/>
<rect x="759" y="592" width="3" height="4" fill="#00FF00"/>
<rect x="767" y="592" width="3" height="3" fill="#00FF00"/>
<rect x="775" y="592" width="3" height="2" fill="#00FF00"/>
<rect x="783" y="592" width="3" height="2" fill="#00FF00"/>
<rect x="791" y="589" width="3" height="3" fill="#00FF00"/>
<rect x="799" y="588" width="3" height="4" fill="#00FF00"/>
<rect x="807" y="585" width="3" height="7" fill="#00FF00"/>
<rect x="815" y="584" width="3" height="8" fill="#00FF00"/>
<rect x="823" y="581" width="3" height="11" fill="#00FF00"/>
<rect x="831" y="579" width="3" height="13" fill="#00FF00"/>
<rect x="839" y="576" width="3" height="16" fill="#00FF00"/>
<rect x="847" y="571" width="3" height="21" fill="#00FF00"/>
<rect x="855" y="565" width="3" height="27" fill="#00FF00"/>
<rect x="863" y="561" width="3" height="31" fill="#00FF00"/>
<rect x="871" y="557" width="3" height="35" fill="#00FF00"/>
<rect x="879" y="554" width="3" height="38" fill="#00FF00"/>
<rect x="887" y="552" width="3" height="40" fill="#00FF00"/>
<rect x="895" y="551" width="3" height="41" fill="#00FF00"/>
<rect x="903" y="553" width="3" height="39" fill="#00FF00"/>
<rect x="911" y="554" width="3" height="38" fill="#00FF00"/>
<rect x="919" y="556" width="3" height="36" fill="#00FF00"/>
<rect x="927" y="557" width="3" height="35" fill="#00FF00"/>
<rect x="935" y="557" width="3" height="35" fill="#00FF00"/>
<rect x="943" y="563" width="3" height="29" fill="#00FF00"/>
<rect x="951" y="569" width="3" height="23" fill="#00FF00"/>
<rect x="959" y="574" width="3" height="18" fill="#00FF00"/>
<rect x="967" y="579" width="3" height="13" fill="#00FF00"/>
<rect x="975" y="583" width="3" height="9" fill="#00FF00"/>
<rect x="983" y="585" width="3" height="7" fill="#00FF00"/>
<rect x="991" y="588" width="3" height="4" fill="#00FF00"/>
<rect x="999" y="590" width="3" height="2" fill="#00FF00"/>
<rect x="1007" y="592" width="3" height="1" fill="#00FF00"/>
<rect x="1015" y="592" width="3" height="3" fill="#00FF00"/>
<rect x="1023" y="592" width="3" height="7" fill="#00FF00"/>
<rect x="1031" y="592" width="3" height="11" fill="#00FF00"/>
<rect x="1039" y="592" width="3" height="11" fill="#00FF00"/>
<rect x="1047" y="592" width="3" height="12" fill="#00FF00"/>
<rect x="1055" y="592" width="3" height="13" fill="#00FF00"/>
<rect x="1063" y="592" width="3" height="15" fill="#00FF00"/>
<rect x="1071" y="592" width="3" height="17" fill="#00FF00"/>
<rect x="1079" y="592" width="3" height="17" fill="#00FF00"/>
<rect x="1087" y="592" width="3" height="18" fill="#00FF00"/>
<rect x="1095" y="592" width="3" height="13" fill="#00FF00"/>
<rect x="1103" y="592" width="3" height="12" fill="#00FF00"/>
<rect x="1111" y="592" width="3" height="10" fill="#00FF00"/>
<rect x="1119" y="592" width="3" height="9" fill="#00FF00"/>
<rect x="1127" y="592" width="3" height="7" fill="#00FF00"/>
<rect x="1135" y="592" width="3" height="6" fill="#00FF00"/>
<rect x="1143" y="592" width="3" height="5" fill="#00FF00"/>
<rect x="1151" y="592" width="3" height="2" fill="#00FF00"/>
<rect x="1159" y="591" width="3" height="1" fill="#00FF00"/>
<rect x="1167" y="591" width="3" height="1" fill="#00FF00"/>
<rect x="1175" y="592" width="3" height="1" fill="#00FF00"/>
<rect x="1183" y="592" width="3" height="3" fill="#00FF00"/>
<rect x="1191" y="592" width="3" height="2" fill="#00FF00"/>
<rect x="1199" y="592" width="3" height="1" fill="#00FF00"/>
<rect x="1207" y="590" width="3" height="2" fill="#00FF00"/>
<rect x="1215" y="589" width="3" height="3" fill="#00FF00"/>
<rect x="1223" y="589" width="3" height="3" fill="#00FF00"/>
<rect x="1231" y="589" width="3" height="3" fill="#00FF00"/>
<rect x="1239" y="587" width="3" height="5" fill="#00FF00"/>
<rect x="1247" y="586" width="3" height="6" fill="#00FF00"/>
<rect x="1255" y="585" width="3" height="7" fill="#00FF00"/>
<polyline points="0.0,551.0 8.0,553.0 16.0,555.0 24.0,559.0 40.0,565.0 56.0,571.0 72.0,576.8 88.0,580.8 104.0,580.8 152.0,580.8 160.0,582.2 176.0,583.8 192.0,586.3 208.0,588.3 216.0,589.3 232.0,590.7 280.0,590.7 281.0,589.7 312.0,589.7 320.0,591.3 328.0,592.7 340.0,595.3 352.0,599.7 368.0,605.4 384.0,616.0 400.0,626.9 416.0,637.9 432.0,649.0 440.0,654.0 448.0,657.6 456.0,660.6 464.0,662.7 472.0,664.7 480.0,665.1 495.0,664.7 505.0,662.3 521.0,658.6 537.0,651.2 553.0,645.0 569.0,641.1 585.0,639.1 597.5,637.9 601.5,638.5 621.6,638.5 637.7,636.5 650.0,633.5 656.0,631.5 672.0,628.5 688.0,622.4 704.0,616.4 728.5,607.4 744.6,603.3 760.7,599.3 776.7,597.3 792.8,595.3 808.9,593.7 821.0,590.3 833.0,587.3 841.0,586.9 849.0,583.2 865.0,577.2 881.0,569.2 897.4,562.1 905.4,559.5 921.5,555.7 929.6,554.7 943.6,554.7 953.7,557.1 961.7,559.7 970.0,563.1 976.0,566.1 992.0,573.2 1008.0,580.2 1024.0,587.3 1040.0,593.3 1056.5,597.3 1072.6,602.3 1080.6,603.9 1088.7,604.7 1127.0,604.7 1137.0,603.3 1145.0,602.3 1161.0,598.3 1177.0,596.3 1193.0,594.3 1209.0,592.3 1225.4,591.3 1247.5,590.9 1249.6,589.9 1256.6,589.9" fill="none" stroke="#FF0000" stroke-width="2" shape-rendering="crispEdges"/>
<path d="M-1 700.5H1589" stroke="#000" stroke-width="1" stroke-dasharray="3 3" shape-rendering="crispEdges"/>
<path d="M-1 735.5H1589" stroke="#000" stroke-width="1" stroke-dasharray="3 3" shape-rendering="crispEdges"/>
<path d="M-1 775.5H1589" stroke="#000" stroke-width="1" stroke-dasharray="3 3" shape-rendering="crispEdges"/>
<polyline points="0.0,722.9 7.7,722.9 14.0,724.9 24.3,724.9 32.0,743.3 38.4,738.5 44.8,739.8 51.2,739.8 58.9,736.4 66.5,733.9 73.0,730.8 80.6,730.5 88.3,719.0 97.3,719.0 103.7,720.3 111.3,723.6 119.0,728.7 128.0,739.8 135.7,739.8 145.9,738.5 153.6,733.9 160.0,728.7 168.9,727.5 176.6,732.6 183.0,736.4 192.0,736.9 199.6,742.1 208.6,742.1 216.3,744.9 224.0,735.9 231.6,727.0 240.6,729.5 249.6,730.5 263.6,730.5 266.2,729.5 272.6,729.5 280.3,738.5 288.0,738.5 294.3,739.8 303.3,739.8 312.3,735.7 320.0,744.1 327.6,758.7 337.9,756.9 346.8,756.9 352.0,757.7 360.9,757.7 368.6,769.7 376.2,770.2 382.6,772.8 391.6,773.0 400.6,775.6 409.5,776.6 415.1,776.9 421.5,779.2 425.4,779.2 433.0,774.8 440.7,768.4 448.4,764.6 456.1,767.9 463.7,767.9 467.6,768.4 472.7,768.4 480.4,763.8 490.6,763.8 498.3,760.7 506.0,756.1 513.7,756.1 521.3,750.0 528.5,742.8 536.2,745.4 544.4,758.7 552.0,760.2 559.7,762.8 575.1,762.8 586.6,758.7 594.3,754.9 602.0,754.9 608.4,759.0 616.0,756.9 623.7,749.2 630.1,750.0 639.1,750.0 648.0,745.4 655.7,742.8 672.4,742.8 680.0,737.7 687.7,734.6 696.7,738.2 704.3,730.0 712.0,728.7 719.7,728.7 727.4,737.2 736.3,746.2 744.0,742.1 753.0,730.0 759.4,730.0 768.3,735.1 778.6,733.9 785.0,736.4 792.7,725.7 800.3,730.0 808.0,725.7 815.7,728.2 820.0,726.3 824.1,723.0 832.3,721.1 840.6,721.1 847.4,712.6 855.6,708.5 865.2,714.2 874.8,710.1 881.7,709.8 888.5,712.8 896.8,716.1 903.6,719.7 913.2,719.7 920.1,722.2 928.3,718.3 935.2,717.5 944.8,735.3 952.4,740.8 962.6,739.7 969.4,739.7 976.3,740.8 984.5,739.7 992.7,740.8 999.6,740.8 1007.8,742.2 1016.0,744.4 1024.3,750.4 1032.5,753.1 1040.7,742.5 1047.6,744.4 1055.8,744.9 1064.0,751.8 1072.3,750.4 1080.5,747.1 1088.7,746.8 1096.4,730.7 1105.2,733.9 1113.4,736.7 1121.6,736.7 1128.5,733.4 1136.7,734.5 1144.9,734.5 1151.8,725.7 1160.0,728.5 1168.2,730.7 1176.5,740.8 1184.1,745.7 1192.4,730.7 1199.8,732.0 1208.0,730.7 1214.8,729.8 1224.4,733.9 1232.7,733.9 1240.9,726.5 1249.1,726.5 1256.0,725.7" fill="none" stroke="#1E90FF" stroke-width="2" shape-rendering="crispEdges"/>
<rect x="1590" y="41" width="2" height="1" fill="#000"/>
<text text-rendering="geometricPrecision" x="1595" y="45" fill="#000" font-size="10" letter-spacing="-0.56" text-anchor="start" font-weight="normal" word-spacing="1.0" style="white-space:pre">4199.790</text>
<rect x="1590" y="74" width="2" height="1" fill="#000"/>
<text text-rendering="geometricPrecision" x="1595" y="78" fill="#000" font-size="10" letter-spacing="-0.56" text-anchor="start" font-weight="normal" word-spacing="1.0" style="white-space:pre">4160.860</text>
<rect x="1590" y="107" width="2" height="1" fill="#000"/>
<text text-rendering="geometricPrecision" x="1595" y="111" fill="#000" font-size="10" letter-spacing="-0.56" text-anchor="start" font-weight="normal" word-spacing="1.0" style="white-space:pre">4123.075</text>
<rect x="1590" y="140" width="2" height="1" fill="#000"/>
<text text-rendering="geometricPrecision" x="1595" y="144" fill="#000" font-size="10" letter-spacing="-0.56" text-anchor="start" font-weight="normal" word-spacing="1.0" style="white-space:pre">4085.290</text>
<rect x="1590" y="173" width="2" height="1" fill="#000"/>
<text text-rendering="geometricPrecision" x="1595" y="177" fill="#000" font-size="10" letter-spacing="-0.56" text-anchor="start" font-weight="normal" word-spacing="1.0" style="white-space:pre">4046.360</text>
<rect x="1590" y="206" width="2" height="1" fill="#000"/>
<text text-rendering="geometricPrecision" x="1595" y="210" fill="#000" font-size="10" letter-spacing="-0.56" text-anchor="start" font-weight="normal" word-spacing="1.0" style="white-space:pre">4008.575</text>
<rect x="1590" y="239" width="2" height="1" fill="#000"/>
<text text-rendering="geometricPrecision" x="1595" y="243" fill="#000" font-size="10" letter-spacing="-0.56" text-anchor="start" font-weight="normal" word-spacing="1.0" style="white-space:pre">3970.790</text>
<rect x="1590" y="272" width="2" height="1" fill="#000"/>
<text text-rendering="geometricPrecision" x="1595" y="276" fill="#000" font-size="10" letter-spacing="-0.56" text-anchor="start" font-weight="normal" word-spacing="1.0" style="white-space:pre">3933.005</text>
<rect x="1590" y="305" width="2" height="1" fill="#000"/>
<text text-rendering="geometricPrecision" x="1595" y="309" fill="#000" font-size="10" letter-spacing="-0.56" text-anchor="start" font-weight="normal" word-spacing="1.0" style="white-space:pre">3894.075</text>
<rect x="1590" y="338" width="2" height="1" fill="#000"/>
<text text-rendering="geometricPrecision" x="1595" y="342" fill="#000" font-size="10" letter-spacing="-0.56" text-anchor="start" font-weight="normal" word-spacing="1.0" style="white-space:pre">3856.290</text>
<rect x="1590" y="371" width="2" height="1" fill="#000"/>
<text text-rendering="geometricPrecision" x="1595" y="375" fill="#000" font-size="10" letter-spacing="-0.56" text-anchor="start" font-weight="normal" word-spacing="1.0" style="white-space:pre">3818.505</text>
<rect x="1590" y="404" width="2" height="1" fill="#000"/>
<text text-rendering="geometricPrecision" x="1595" y="408" fill="#000" font-size="10" letter-spacing="-0.56" text-anchor="start" font-weight="normal" word-spacing="1.0" style="white-space:pre">3780.720</text>
<rect x="1590" y="437" width="2" height="1" fill="#000"/>
<text text-rendering="geometricPrecision" x="1595" y="441" fill="#000" font-size="10" letter-spacing="-0.56" text-anchor="start" font-weight="normal" word-spacing="1.0" style="white-space:pre">3741.790</text>
<rect x="1590" y="470" width="2" height="1" fill="#000"/>
<text text-rendering="geometricPrecision" x="1595" y="474" fill="#000" font-size="10" letter-spacing="-0.56" text-anchor="start" font-weight="normal" word-spacing="1.0" style="white-space:pre">3704.005</text>
<rect x="1590" y="503" width="2" height="1" fill="#000"/>
<text text-rendering="geometricPrecision" x="1595" y="507" fill="#000" font-size="10" letter-spacing="-0.56" text-anchor="start" font-weight="normal" word-spacing="1.0" style="white-space:pre">3666.220</text>
<rect x="1590" y="536" width="2" height="1" fill="#000"/>
<text text-rendering="geometricPrecision" x="1595" y="540" fill="#000" font-size="10" letter-spacing="-0.56" text-anchor="start" font-weight="normal" word-spacing="1.0" style="white-space:pre">3628.435</text>
<rect x="1591" y="336" width="46" height="11" fill="#000"/>
<text text-rendering="geometricPrecision" x="1595" y="345" fill="#fff" font-size="10" letter-spacing="-0.56" text-anchor="start" font-weight="normal" word-spacing="1.0" style="white-space:pre">3853.550</text>
<rect x="1591" y="271" width="46" height="11" fill="#FF0000"/>
<text text-rendering="geometricPrecision" x="1595" y="280" fill="#fff" font-size="10" letter-spacing="-0.56" text-anchor="start" font-weight="normal" word-spacing="1.0" style="white-space:pre">3926.695</text>
<rect x="1591" y="305" width="46" height="11" fill="#FF0000"/>
<text text-rendering="geometricPrecision" x="1595" y="314" fill="#fff" font-size="10" letter-spacing="-0.56" text-anchor="start" font-weight="normal" word-spacing="1.0" style="white-space:pre">3887.762</text>
<rect x="1591" y="342" width="46" height="11" fill="#FF8C00"/>
<text text-rendering="geometricPrecision" x="1595" y="351" fill="#fff" font-size="10" letter-spacing="-0.56" text-anchor="start" font-weight="normal" word-spacing="1.0" style="white-space:pre">3845.290</text>
<rect x="1591" y="390" width="46" height="11" fill="#0000FF"/>
<text text-rendering="geometricPrecision" x="1595" y="399" fill="#fff" font-size="10" letter-spacing="-0.56" text-anchor="start" font-weight="normal" word-spacing="1.0" style="white-space:pre">3789.840</text>
<rect x="1591" y="425" width="46" height="11" fill="#0000FF"/>
<text text-rendering="geometricPrecision" x="1595" y="434" fill="#fff" font-size="10" letter-spacing="-0.56" text-anchor="start" font-weight="normal" word-spacing="1.0" style="white-space:pre">3748.547</text>
<text text-rendering="geometricPrecision" x="1593" y="552" fill="#000" font-size="10" letter-spacing="-0.56" text-anchor="start" font-weight="normal" word-spacing="1.0" style="white-space:pre">59.6883</text>
<rect x="1590" y="592" width="2" height="1" fill="#000"/>
<text text-rendering="geometricPrecision" x="1594" y="596" fill="#000" font-size="10" letter-spacing="-0.56" text-anchor="start" font-weight="normal" word-spacing="1.0" style="white-space:pre">0.00</text>
<text text-rendering="geometricPrecision" x="1593" y="671" fill="#000" font-size="10" letter-spacing="-0.56" text-anchor="start" font-weight="normal" word-spacing="1.0" style="white-space:pre">-98.3915</text>
<text text-rendering="geometricPrecision" x="1593" y="687" fill="#000" font-size="10" letter-spacing="-0.56" text-anchor="start" font-weight="normal" word-spacing="1.0" style="white-space:pre">100</text>
<text text-rendering="geometricPrecision" x="1592" y="704" fill="#000" font-size="10" letter-spacing="-0.56" text-anchor="start" font-weight="normal" word-spacing="1.0" style="white-space:pre">80</text>
<text text-rendering="geometricPrecision" x="1592" y="739" fill="#000" font-size="10" letter-spacing="-0.56" text-anchor="start" font-weight="normal" word-spacing="1.0" style="white-space:pre">50</text>
<text text-rendering="geometricPrecision" x="1592" y="779" fill="#000" font-size="10" letter-spacing="-0.56" text-anchor="start" font-weight="normal" word-spacing="1.0" style="white-space:pre">15</text>
<text text-rendering="geometricPrecision" x="1593" y="790" fill="#000" font-size="10" letter-spacing="-0.56" text-anchor="start" font-weight="normal" word-spacing="1.0" style="white-space:pre">0</text>
<rect x="-8" y="794" width="1" height="3" fill="#000"/>
<text text-rendering="geometricPrecision" x="-9" y="806" fill="#000" font-size="10" letter-spacing="-0.56" text-anchor="start" font-weight="normal" word-spacing="1.0" style="white-space:pre">31 May 2022</text>
<rect x="56" y="794" width="1" height="3" fill="#000"/>
<text text-rendering="geometricPrecision" x="55" y="806" fill="#000" font-size="10" letter-spacing="-0.56" text-anchor="start" font-weight="normal" word-spacing="1.0" style="white-space:pre">2 Jun 00:00</text>
<rect x="120" y="794" width="1" height="3" fill="#000"/>
<text text-rendering="geometricPrecision" x="119" y="806" fill="#000" font-size="10" letter-spacing="-0.56" text-anchor="start" font-weight="normal" word-spacing="1.0" style="white-space:pre">3 Jun 08:00</text>
<rect x="184" y="794" width="1" height="3" fill="#000"/>
<text text-rendering="geometricPrecision" x="183" y="806" fill="#000" font-size="10" letter-spacing="-0.56" text-anchor="start" font-weight="normal" word-spacing="1.0" style="white-space:pre">6 Jun 16:00</text>
<rect x="248" y="794" width="1" height="3" fill="#000"/>
<text text-rendering="geometricPrecision" x="247" y="806" fill="#000" font-size="10" letter-spacing="-0.56" text-anchor="start" font-weight="normal" word-spacing="1.0" style="white-space:pre">8 Jun 00:00</text>
<rect x="312" y="794" width="1" height="3" fill="#000"/>
<text text-rendering="geometricPrecision" x="311" y="806" fill="#000" font-size="10" letter-spacing="-0.56" text-anchor="start" font-weight="normal" word-spacing="1.0" style="white-space:pre">9 Jun 08:00</text>
<rect x="376" y="794" width="1" height="3" fill="#000"/>
<text text-rendering="geometricPrecision" x="375" y="806" fill="#000" font-size="10" letter-spacing="-0.56" text-anchor="start" font-weight="normal" word-spacing="1.0" style="white-space:pre">10 Jun 16:00</text>
<rect x="440" y="794" width="1" height="3" fill="#000"/>
<text text-rendering="geometricPrecision" x="439" y="806" fill="#000" font-size="10" letter-spacing="-0.56" text-anchor="start" font-weight="normal" word-spacing="1.0" style="white-space:pre">14 Jun 00:00</text>
<rect x="504" y="794" width="1" height="3" fill="#000"/>
<text text-rendering="geometricPrecision" x="503" y="806" fill="#000" font-size="10" letter-spacing="-0.56" text-anchor="start" font-weight="normal" word-spacing="1.0" style="white-space:pre">15 Jun 08:00</text>
<rect x="568" y="794" width="1" height="3" fill="#000"/>
<text text-rendering="geometricPrecision" x="567" y="806" fill="#000" font-size="10" letter-spacing="-0.56" text-anchor="start" font-weight="normal" word-spacing="1.0" style="white-space:pre">16 Jun 16:00</text>
<rect x="632" y="794" width="1" height="3" fill="#000"/>
<text text-rendering="geometricPrecision" x="631" y="806" fill="#000" font-size="10" letter-spacing="-0.56" text-anchor="start" font-weight="normal" word-spacing="1.0" style="white-space:pre">20 Jun 00:00</text>
<rect x="696" y="794" width="1" height="3" fill="#000"/>
<text text-rendering="geometricPrecision" x="695" y="806" fill="#000" font-size="10" letter-spacing="-0.56" text-anchor="start" font-weight="normal" word-spacing="1.0" style="white-space:pre">21 Jun 08:00</text>
<rect x="760" y="794" width="1" height="3" fill="#000"/>
<text text-rendering="geometricPrecision" x="759" y="806" fill="#000" font-size="10" letter-spacing="-0.56" text-anchor="start" font-weight="normal" word-spacing="1.0" style="white-space:pre">22 Jun 16:00</text>
<rect x="824" y="794" width="1" height="3" fill="#000"/>
<text text-rendering="geometricPrecision" x="823" y="806" fill="#000" font-size="10" letter-spacing="-0.56" text-anchor="start" font-weight="normal" word-spacing="1.0" style="white-space:pre">24 Jun 00:00</text>
<rect x="888" y="794" width="1" height="3" fill="#000"/>
<text text-rendering="geometricPrecision" x="887" y="806" fill="#000" font-size="10" letter-spacing="-0.56" text-anchor="start" font-weight="normal" word-spacing="1.0" style="white-space:pre">27 Jun 08:00</text>
<rect x="952" y="794" width="1" height="3" fill="#000"/>
<text text-rendering="geometricPrecision" x="951" y="806" fill="#000" font-size="10" letter-spacing="-0.56" text-anchor="start" font-weight="normal" word-spacing="1.0" style="white-space:pre">28 Jun 16:00</text>
<rect x="1016" y="794" width="1" height="3" fill="#000"/>
<text text-rendering="geometricPrecision" x="1015" y="806" fill="#000" font-size="10" letter-spacing="-0.56" text-anchor="start" font-weight="normal" word-spacing="1.0" style="white-space:pre">30 Jun 00:00</text>
<rect x="1080" y="794" width="1" height="3" fill="#000"/>
<text text-rendering="geometricPrecision" x="1079" y="806" fill="#000" font-size="10" letter-spacing="-0.56" text-anchor="start" font-weight="normal" word-spacing="1.0" style="white-space:pre">1 Jul 08:00</text>
<rect x="1144" y="794" width="1" height="3" fill="#000"/>
<text text-rendering="geometricPrecision" x="1143" y="806" fill="#000" font-size="10" letter-spacing="-0.56" text-anchor="start" font-weight="normal" word-spacing="1.0" style="white-space:pre">4 Jul 16:00</text>
<rect x="1208" y="794" width="1" height="3" fill="#000"/>
<text text-rendering="geometricPrecision" x="1207" y="806" fill="#000" font-size="10" letter-spacing="-0.56" text-anchor="start" font-weight="normal" word-spacing="1.0" style="white-space:pre">6 Jul 00:00</text>
<polygon points="-1.5,32 2.6,32 0.5,34.4" fill="#000"/>
<text text-rendering="geometricPrecision" x="7.2" y="37" fill="#000" font-size="10" letter-spacing="-0.56" text-anchor="start" font-weight="normal" word-spacing="1.0" style="white-space:pre" textLength="211.6" lengthAdjust="spacing">SP500-,H4  3853.550 3853.550 3853.550 3853.550</text>
<text text-rendering="geometricPrecision" x="-4" y="554" fill="#000" font-size="10" letter-spacing="-0.56" text-anchor="start" font-weight="normal" word-spacing="1.0" style="white-space:pre" textLength="128" lengthAdjust="spacing">MACD(12,26,9) 8.7073 3.6677</text>
<text text-rendering="geometricPrecision" x="-3" y="689" fill="#000" font-size="10" letter-spacing="-0.56" text-anchor="start" font-weight="normal" word-spacing="1.0" style="white-space:pre" textLength="67" lengthAdjust="spacing">RSI(14) 57.4783</text>
</g>
<rect x="0" y="0" width="1641" height="20" fill="#F0F0F0"/>
<rect x="0" y="20" width="1641" height="1" fill="#D8D8D8"/>
<rect x="0" y="21" width="1641" height="1" fill="#A0A0A0"/>
<rect x="0" y="22" width="1641" height="1" fill="#696969"/>
<rect x="1640" y="22" width="1" height="788" fill="#ECECEC"/>
<text x="-4.2" y="12.6" font-size="12" fill="#000" style="font-family:'Liberation Sans','Noto Sans CJK SC',sans-serif">订单</text>
<defs><linearGradient id="gd" x1="0" y1="0" x2="1" y2="1"><stop offset="0" stop-color="#D8A020"/><stop offset="0.45" stop-color="#FBE26A"/><stop offset="1" stop-color="#D09A1C"/></linearGradient><linearGradient id="rb" x1="0" y1="0" x2="0" y2="1"><stop offset="0" stop-color="#EA5A3A"/><stop offset="1" stop-color="#D82412"/></linearGradient><linearGradient id="bl" x1="0" y1="0" x2="1" y2="0"><stop offset="0" stop-color="#1E6AD0"/><stop offset="1" stop-color="#7ABAF0"/></linearGradient></defs>
<polygon points="38.4,2 47.9,9.5 47.9,11 40.6,16.9 39.4,16.9 32,11.6 32.1,10.4" fill="#A87414"/>
<polygon points="38.4,2 47.8,9.4 40.4,15.1 32.2,10.7" fill="url(#gd)"/>
<path d="M32.6 11.6L40.4 16L47.4 10.6" stroke="#E0B040" stroke-width="0.7" fill="none"/>
<rect x="62.2" y="1.3" width="10.4" height="9" fill="#1E8CF0"/><rect x="62.2" y="1.3" width="2.6" height="9" fill="#1470D8"/>
<rect x="65.6" y="2.6" width="6.4" height="6" fill="#5CB6F8"/><rect x="67" y="5.2" width="4" height="1" fill="#E8F4FF"/>
<path d="M62.8 16.4c-3 0-3.4-3.8-.4-4.2c.2-2.2 3-2.8 4.2-1.2c1.4-2.4 5.4-1.8 5.6 1c3.2-.4 3.8 4.4.4 4.4z" fill="#F4F8FC" stroke="#6E8CB8" stroke-width="0.9"/>
<g fill="none" stroke-width="1.1"><path d="M96 .8a7.8 7.8 0 0 0 0 15.6" stroke="#B4C8EC"/><path d="M96 3.2a5.4 5.4 0 0 0 0 10.8" stroke="#4A78D8"/><path d="M96 5.6a3 3 0 0 0 0 6" stroke="#3A68D0"/><path d="M96 .8a7.8 7.8 0 0 1 0 15.6" stroke="#C4DCC4"/><path d="M96 3.2a5.4 5.4 0 0 1 0 10.8" stroke="#8CC08C"/><path d="M96 5.6a3 3 0 0 1 0 6" stroke="#6AA8C8"/></g>
<path d="M96 8.6V16.6A8 8 0 0 0 102.6 13z" fill="#8CCB8C" opacity="0.55"/>
<rect x="95.5" y="8.6" width="1.3" height="8.2" fill="#28A028"/><circle cx="96" cy="8.4" r="1.5" fill="#2A5AD0"/>
<polygon points="115.8,7 130.4,7 126,14 123.4,16.6 121,14" fill="#F6DA60" stroke="#D0A428" stroke-width="0.6"/>
<ellipse cx="123" cy="5.6" rx="8" ry="2.6" fill="#3A8AD8"/><path d="M118.6 5.4c0-5.4 8.8-5.4 8.8 0z" fill="#5AA4E8"/>
<circle cx="127.5" cy="12.7" r="3.9" fill="#DE2010"/><rect x="126.3" y="11.5" width="2.4" height="2.4" fill="#fff"/>
<text x="136.6" y="12.6" font-size="12" fill="#000" style="font-family:'Liberation Sans','Noto Sans CJK SC',sans-serif">自动交易</text>
<rect x="191" y="1" width="1" height="18" fill="#A0A0A0"/>
<rect x="192" y="1" width="1" height="18" fill="#FFFFFF"/>
<rect x="195" y="2" width="3" height="1" fill="#A8A8A8"/>
<rect x="195" y="4" width="3" height="1" fill="#A8A8A8"/>
<rect x="195" y="6" width="3" height="1" fill="#A8A8A8"/>
<rect x="195" y="8" width="3" height="1" fill="#A8A8A8"/>
<rect x="195" y="10" width="3" height="1" fill="#A8A8A8"/>
<rect x="195" y="12" width="3" height="1" fill="#A8A8A8"/>
<rect x="195" y="14" width="3" height="1" fill="#A8A8A8"/>
<rect x="195" y="16" width="3" height="1" fill="#A8A8A8"/>
<path d="M209.5 3.6V16.6M206.9 14.6H220.1" stroke="#484848" stroke-width="0.95" fill="none"/>
<polygon points="207.6,5.8 209.5,3 211.4,5.8" fill="#484848"/><polygon points="218.1,12.7 220.9,14.6 218.1,16.5" fill="#484848"/>
<path d="M215.3 4.8V12.2M215.3 5.4H218M215.3 11.8H212.8" stroke="#1E9E1E" stroke-width="1.2" fill="none"/>
<rect x="229" y="1" width="1" height="18" fill="#A0A0A0"/>
<rect x="230" y="1" width="1" height="18" fill="#FFFFFF"/>
<rect x="230" y="0" width="24" height="20" fill="#F8F8F8"/>
<path d="M237.6 3.6V16.6M235.0 14.6H248.2" stroke="#484848" stroke-width="0.95" fill="none"/>
<polygon points="235.7,5.8 237.6,3 239.5,5.8" fill="#484848"/><polygon points="246.2,12.7 249.0,14.6 246.2,16.5" fill="#484848"/>
<rect x="243" y="1.2" width="1" height="11.4" fill="#0E6E0E"/><rect x="241.4" y="3.6" width="4.4" height="7" fill="#22CC44" stroke="#0E7E1E" stroke-width="0.8"/>
<path d="M265.4 3.6V16.6M262.79999999999995 14.6H276.0" stroke="#484848" stroke-width="0.95" fill="none"/>
<polygon points="263.5,5.8 265.4,3 267.29999999999995,5.8" fill="#484848"/><polygon points="274.0,12.7 276.79999999999995,14.6 274.0,16.5" fill="#484848"/>
<path d="M264.2 11.8C267 7 269.5 5 271.5 6.4S274.6 9.6 276.2 10.6" stroke="#1E9E1E" stroke-width="1.1" fill="none"/>
<rect x="286" y="1" width="1" height="18" fill="#A0A0A0"/>
<rect x="287" y="1" width="1" height="18" fill="#FFFFFF"/>
<path d="M304.6 11L309.2 15.4" stroke="#9A7A14" stroke-width="3.6" stroke-linecap="round"/>
<path d="M304.8 11.2L309 15.2" stroke="#E8C434" stroke-width="2.2" stroke-linecap="round"/>
<circle cx="301" cy="7.3" r="5.2" fill="#D4E8F8" stroke="#3A86D8" stroke-width="1.5"/>
<path d="M298 7.3H304" stroke="#2A66C4" stroke-width="1.8"/>
<path d="M301 4.3V10.3" stroke="#2A66C4" stroke-width="1.8"/>
<path d="M332.6 11L337.2 15.4" stroke="#9A7A14" stroke-width="3.6" stroke-linecap="round"/>
<path d="M332.8 11.2L337 15.2" stroke="#E8C434" stroke-width="2.2" stroke-linecap="round"/>
<circle cx="329" cy="7.3" r="5.2" fill="#D4E8F8" stroke="#3A86D8" stroke-width="1.5"/>
<path d="M326 7.3H332" stroke="#2A66C4" stroke-width="1.8"/>
<rect x="351.2" y="1.2" width="7.6" height="7.6" fill="#46A81E"/><rect x="352.59999999999997" y="4.0" width="4.8" height="3" fill="none" stroke="#fff" stroke-width="1"/>
<rect x="359.4" y="1.2" width="7.6" height="7.6" fill="#1E4CC0"/><rect x="360.79999999999995" y="4.0" width="4.8" height="3" fill="none" stroke="#fff" stroke-width="1"/>
<rect x="351.2" y="9.2" width="7.6" height="7.6" fill="#2458C8"/><rect x="352.59999999999997" y="12.0" width="4.8" height="3" fill="none" stroke="#fff" stroke-width="1"/>
<rect x="359.4" y="9.2" width="7.6" height="7.6" fill="#3EA428"/><rect x="360.79999999999995" y="12.0" width="4.8" height="3" fill="none" stroke="#fff" stroke-width="1"/>
<rect x="376" y="1" width="1" height="18" fill="#A0A0A0"/>
<rect x="377" y="1" width="1" height="18" fill="#FFFFFF"/>
<rect x="381" y="0" width="26" height="20" fill="#F8F8F8"/>
<rect x="381" y="0" width="1" height="20" fill="#A0A0A0"/>
<path d="M389.5 3.6V16.6M386.9 14.6H400.1" stroke="#484848" stroke-width="0.95" fill="none"/>
<polygon points="387.6,5.8 389.5,3 391.4,5.8" fill="#484848"/><polygon points="398.1,12.7 400.9,14.6 398.1,16.5" fill="#484848"/>
<polygon points="394.2,5 394.2,12 398.6,8.5" fill="#8EE08E" stroke="#1E9E1E" stroke-width="1"/>
<rect x="409" y="1" width="1" height="18" fill="#A0A0A0"/>
<rect x="410" y="1" width="1" height="18" fill="#FFFFFF"/>
<rect x="410" y="0" width="24" height="20" fill="#F8F8F8"/>
<path d="M417.6 3.6V16.6M415.0 14.6H428.20000000000005" stroke="#484848" stroke-width="0.95" fill="none"/>
<polygon points="415.70000000000005,5.8 417.6,3 419.5,5.8" fill="#484848"/><polygon points="426.20000000000005,12.7 429.0,14.6 426.20000000000005,16.5" fill="#484848"/>
<rect x="423.2" y="3" width="1.2" height="10.6" fill="#2060C0"/><path d="M429.4 8.5H425.2M427.4 6.2L425 8.5L427.4 10.8" stroke="#E0440E" stroke-width="1.2" fill="none"/>
<rect x="438" y="1" width="1" height="18" fill="#A0A0A0"/>
<rect x="439" y="1" width="1" height="18" fill="#FFFFFF"/>
<path d="M448.4 1.4H456L459.4 4.8V14H448.4z" fill="#FCFCFC" stroke="#8A8A8A" stroke-width="0.9"/><path d="M456 1.4V4.8H459.4" fill="#E0E0E0" stroke="#8A8A8A" stroke-width="0.7"/>
<path d="M453.4 4.2c-1.4-.4-2 .4-2 1.6V10M450.4 7H453" stroke="#707070" stroke-width="0.9" fill="none"/>
<path d="M456.2 7H459.8V10.6H463.6V14.2H459.8V18H456.2V14.2H452.4V10.6H456.2z" fill="#22C022" stroke="#0E7A0E" stroke-width="0.8"/>
<polygon points="469.59999999999997,7.8 475.2,7.8 472.4,10.8" fill="#000"/>
<circle cx="494" cy="8.8" r="6.8" fill="#F4F8FF" stroke="#2060C8" stroke-width="2.4"/><circle cx="494" cy="8.8" r="7.9" fill="none" stroke="#1A48A0" stroke-width="0.5"/>
<path d="M494 4.6V9H497.2" stroke="#303030" stroke-width="1.1" fill="none"/>
<polygon points="508.7,7.8 514.3,7.8 511.5,10.8" fill="#000"/>
<rect x="525.4" y="2" width="15.6" height="13.8" fill="#FFFFFF" stroke="#2E6CD0" stroke-width="1.2"/><rect x="525.4" y="2" width="15.6" height="2.8" fill="#2E6CD0"/>
<path d="M527.4 8.8L530.6 7L533.6 7.6L538.8 5.8" stroke="#B02818" stroke-width="1.1" fill="none"/><path d="M527.4 13.2L530 11.6L532.2 12.8L536 10.6L539 13.2" stroke="#1E9E3E" stroke-width="1.1" fill="none"/>
<polygon points="547.7,7.8 553.3,7.8 550.5,10.8" fill="#000"/>
<rect x="559" y="1" width="1" height="18" fill="#A0A0A0"/>
<rect x="560" y="1" width="1" height="18" fill="#FFFFFF"/>
<rect x="563" y="2" width="3" height="1" fill="#A8A8A8"/>
<rect x="563" y="4" width="3" height="1" fill="#A8A8A8"/>
<rect x="563" y="6" width="3" height="1" fill="#A8A8A8"/>
<rect x="563" y="8" width="3" height="1" fill="#A8A8A8"/>
<rect x="563" y="10" width="3" height="1" fill="#A8A8A8"/>
<rect x="563" y="12" width="3" height="1" fill="#A8A8A8"/>
<rect x="563" y="14" width="3" height="1" fill="#A8A8A8"/>
<rect x="563" y="16" width="3" height="1" fill="#A8A8A8"/>
<rect x="569" y="0" width="26" height="20" fill="#F8F8F8"/>
<rect x="569" y="0" width="1" height="20" fill="#A0A0A0"/>
<polygon points="577,2.2 577,13.6 579.8,11.2 582,16 584.2,15 582,10.4 585.8,10.4" fill="#404040"/>
<path d="M602.4 9.2H607.6M611.4 9.2H616.6M609.5 2.2V7.2M609.5 11.2V16.2" stroke="#404040" stroke-width="1.1"/>
<rect x="626" y="1" width="1" height="18" fill="#A0A0A0"/>
<rect x="627" y="1" width="1" height="18" fill="#FFFFFF"/>
<path d="M643.7 3V16M666 9.2H678.2M694 15.9L706.2 4.3" stroke="#404040" stroke-width="1.1" fill="none"/>
<path d="M720 12L731.6 3.4M721.6 15.4L733.6 6.6M724 10.6V14.6M727 8.4V12.4M730 6V10" stroke="#404040" stroke-width="1" fill="none"/>
<text x="730.6" y="17.6" font-size="6.5" font-weight="bold" fill="#404040">E</text>
<path d="M749 2.2H762" stroke="#404040" stroke-width="1" stroke-dasharray="1 1"/>
<path d="M749 5.5H762" stroke="#404040" stroke-width="1" stroke-dasharray="1 1"/>
<path d="M749 9H762" stroke="#404040" stroke-width="1" stroke-dasharray="1 1"/>
<path d="M749 13.2H757" stroke="#404040" stroke-width="1" stroke-dasharray="1 1"/>
<text x="758.6" y="17.6" font-size="6.5" font-weight="bold" fill="#404040">F</text>
<text x="783.8" y="13.4" font-size="11.2" font-weight="bold" text-anchor="middle" fill="#585858">A</text>
<rect x="806.2" y="3" width="11.6" height="12.8" fill="none" stroke="#404040" stroke-width="1" stroke-dasharray="1 1"/>
<text x="812" y="13.4" font-size="11.5" font-weight="bold" text-anchor="middle" fill="#505050">T</text>
<polygon points="833.6,6.2 837.4,2.4 841.2,6.2 837.4,7.6" fill="#404040"/><polygon points="840,11.6 847.4,11.6 843.7,15.8" fill="#404040"/><path d="M836.4 8.6L839.4 11.4L844.6 6.2" stroke="#404040" stroke-width="1.2" fill="none"/>
<polygon points="853.7,7.8 859.3,7.8 856.5,10.8" fill="#000"/>
<rect x="865" y="0" width="1" height="20" fill="#A0A0A0"/><rect x="866" y="0" width="1" height="20" fill="#fff"/>
<rect x="869" y="2" width="3" height="1" fill="#A8A8A8"/>
<rect x="869" y="4" width="3" height="1" fill="#A8A8A8"/>
<rect x="869" y="6" width="3" height="1" fill="#A8A8A8"/>
<rect x="869" y="8" width="3" height="1" fill="#A8A8A8"/>
<rect x="869" y="10" width="3" height="1" fill="#A8A8A8"/>
<rect x="869" y="12" width="3" height="1" fill="#A8A8A8"/>
<rect x="869" y="14" width="3" height="1" fill="#A8A8A8"/>
<rect x="869" y="16" width="3" height="1" fill="#A8A8A8"/>
<rect x="1015" y="0" width="25" height="20" fill="#F8F8F8"/>
<rect x="1015" y="0" width="1" height="20" fill="#A0A0A0"/>
<text x="880.6" y="12.9" font-size="9.6" letter-spacing="-0.35" fill="#3A3A3A">M1</text>
<text x="908.8" y="12.9" font-size="9.6" letter-spacing="-0.35" fill="#3A3A3A">M5</text>
<text x="934.7" y="12.9" font-size="9.6" letter-spacing="-0.35" fill="#3A3A3A">M15</text>
<text x="962.4" y="12.9" font-size="9.6" letter-spacing="-0.35" fill="#3A3A3A">M30</text>
<text x="993.4" y="12.9" font-size="9.6" letter-spacing="-0.35" fill="#3A3A3A">H1</text>
<text x="1020.3" y="12.9" font-size="9.6" letter-spacing="-0.35" fill="#3A3A3A">H4</text>
<text x="1049.4" y="12.9" font-size="9.6" letter-spacing="-0.35" fill="#3A3A3A">D1</text>
<text x="1076.8" y="12.9" font-size="9.6" letter-spacing="-0.35" fill="#3A3A3A">W1</text>
<text x="1103.5" y="12.9" font-size="9.6" letter-spacing="-0.35" fill="#3A3A3A">MN</text>
<rect x="1126" y="0" width="1" height="20" fill="#A0A0A0"/><rect x="1127" y="0" width="1" height="20" fill="#fff"/>
<path d="M1593.6 9.6L1589 14.2" stroke="#2050C8" stroke-width="2.8" stroke-linecap="round"/><circle cx="1596.6" cy="6.3" r="4" fill="#F6F6FF" stroke="#2458D0" stroke-width="1.4"/>
<path d="M1616 15.6L1616.8 18.2L1620 16z" fill="#A8A8B0"/><ellipse cx="1619" cy="11.6" rx="6" ry="4.8" fill="#DCDCE6" stroke="#B4B4BC" stroke-width="0.8"/>
<circle cx="1627.6" cy="6.8" r="8" fill="url(#rb)"/><text x="1627.4" y="11.2" font-size="12.5" font-weight="bold" text-anchor="middle" fill="#fff">1</text>
</svg>
</body></html>
